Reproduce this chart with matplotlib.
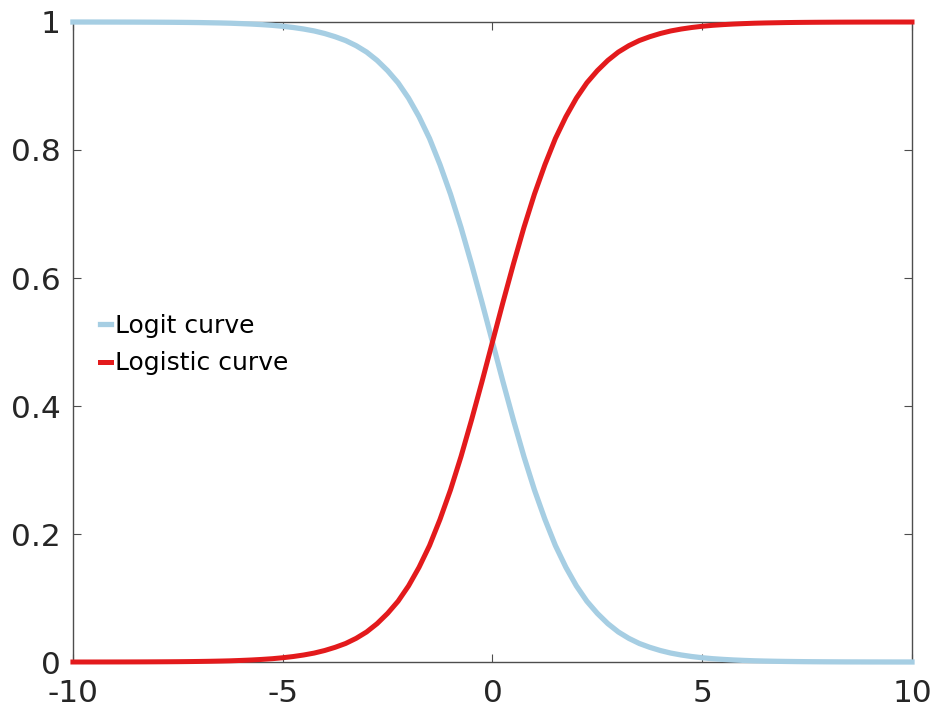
import matplotlib
matplotlib.use("Agg")
import matplotlib.pyplot as plt
from matplotlib import rcParams

# sample points along x (step 0.25)
x = [-10.0, -9.75, -9.5, -9.25, -9.0, -8.75, -8.5, -8.25, -8.0, -7.75,
     -7.5, -7.25, -7.0, -6.75, -6.5, -6.25, -6.0, -5.75, -5.5, -5.25,
     -5.0, -4.75, -4.5, -4.25, -4.0, -3.75, -3.5, -3.25, -3.0, -2.75,
     -2.5, -2.25, -2.0, -1.75, -1.5, -1.25, -1.0, -0.75, -0.5, -0.25,
     0.0,
     0.25, 0.5, 0.75, 1.0, 1.25, 1.5, 1.75, 2.0, 2.25, 2.5,
     2.75, 3.0, 3.25, 3.5, 3.75, 4.0, 4.25, 4.5, 4.75, 5.0,
     5.25, 5.5, 5.75, 6.0, 6.25, 6.5, 6.75, 7.0, 7.25, 7.5,
     7.75, 8.0, 8.25, 8.5, 8.75, 9.0, 9.25, 9.5, 9.75, 10.0]

logistic = [0.00005, 0.00006, 0.00007, 0.0001, 0.00012, 0.00016, 0.0002, 0.00026, 0.00034, 0.00043,
            0.00055, 0.00071, 0.00091, 0.00117, 0.0015, 0.0019, 0.0025, 0.0032, 0.0041, 0.0052,
            0.0067, 0.0086, 0.011, 0.014, 0.018, 0.023, 0.029, 0.037, 0.047, 0.060,
            0.076, 0.095, 0.119, 0.148, 0.182, 0.223, 0.269, 0.321, 0.378, 0.438,
            0.5,
            0.562, 0.622, 0.679, 0.731, 0.777, 0.818, 0.852, 0.881, 0.905, 0.924,
            0.940, 0.953, 0.963, 0.971, 0.977, 0.982, 0.986, 0.989, 0.9914, 0.9933,
            0.9948, 0.9959, 0.9968, 0.9975, 0.9981, 0.9985, 0.9988, 0.9991, 0.9993, 0.99945,
            0.99957, 0.99966, 0.99974, 0.9998, 0.99984, 0.99988, 0.9999, 0.99993, 0.99994, 0.99995]

logit = [0.99995, 0.99994, 0.99993, 0.9999, 0.99988, 0.99984, 0.9998, 0.99974, 0.99966, 0.99957,
         0.99945, 0.9993, 0.9991, 0.9988, 0.9985, 0.9981, 0.9975, 0.9968, 0.9959, 0.9948,
         0.9933, 0.9914, 0.989, 0.986, 0.982, 0.977, 0.971, 0.963, 0.953, 0.940,
         0.924, 0.905, 0.881, 0.852, 0.818, 0.777, 0.731, 0.679, 0.622, 0.562,
         0.5,
         0.438, 0.378, 0.321, 0.269, 0.223, 0.182, 0.148, 0.119, 0.095, 0.076,
         0.060, 0.047, 0.037, 0.029, 0.023, 0.018, 0.014, 0.011, 0.0086, 0.0067,
         0.0052, 0.0041, 0.0032, 0.0025, 0.0019, 0.0015, 0.00117, 0.00091, 0.00071, 0.00055,
         0.00043, 0.00034, 0.00026, 0.0002, 0.00016, 0.00012, 0.0001, 0.00007, 0.00006, 0.00005]

xticks = [-10, -5, 0, 5, 10]
yticks = [0, 0.2, 0.4, 0.6, 0.8, 1]
yticklabels = ["0", "0.2", "0.4", "0.6", "0.8", "1"]

rcParams['font.family'] = 'DejaVu Sans'
rcParams['axes.unicode_minus'] = False

fig = plt.figure(figsize=(9.35, 7.07), dpi=100)
ax = fig.add_axes([0.078, 0.0636, 0.8974, 0.9053])

ax.plot(x, logit, color='#a6cee3', linewidth=3.8, label='Logit curve', clip_on=False, zorder=3)
ax.plot(x, logistic, color='#e31a1c', linewidth=3.6, label='Logistic curve', clip_on=False, zorder=3)

ax.set_xlim(-10, 10)
ax.set_ylim(0, 1)
ax.set_xticks(xticks)
ax.set_xticklabels([str(t) for t in xticks])
ax.set_yticks(yticks)
ax.set_yticklabels(yticklabels)

for s in ax.spines.values():
    s.set_color('#4d4d4d')
    s.set_linewidth(1.0)
ax.tick_params(direction='in', length=6, width=0.8, color='#4d4d4d',
               top=True, right=True, labelsize=22.5, labelcolor='#262626')
ax.tick_params(axis='y', pad=9)
ax.tick_params(axis='x', pad=12)

ax.legend(loc='upper left', bbox_to_anchor=(0.02, 0.56), frameon=False,
          fontsize=18, handlelength=0.45, handletextpad=0.15, labelspacing=0.55,
          borderaxespad=0)

fig.savefig('out.png', dpi=100)
